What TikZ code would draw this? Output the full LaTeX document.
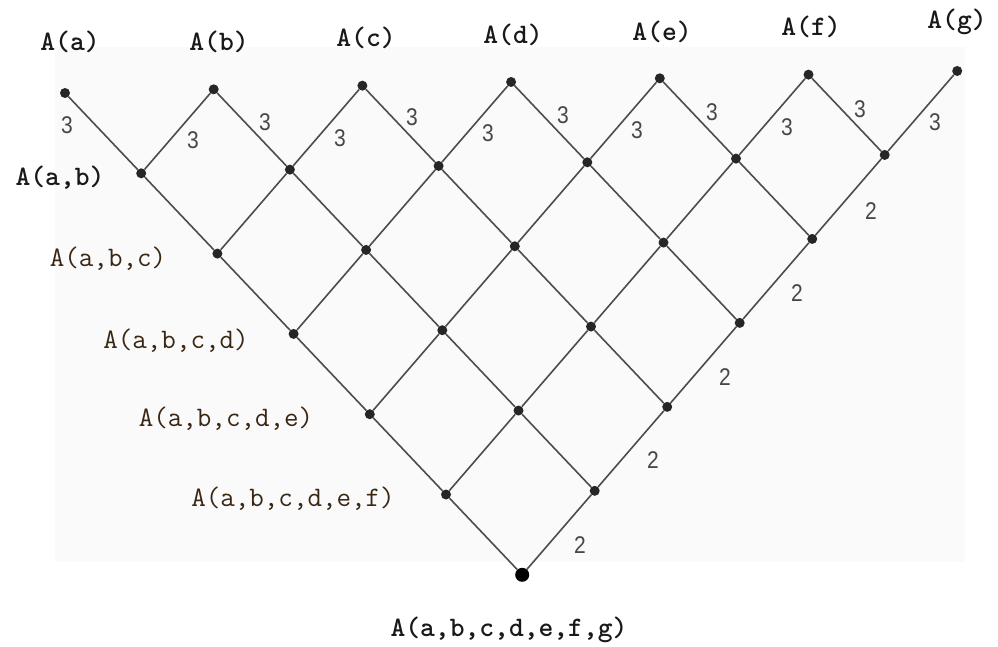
\documentclass[tikz,border=0pt]{standalone}
\usepackage{fontspec}
\setmainfont{Liberation Serif}
\newfontfamily\digf{Liberation Sans}
\begin{document}
\begin{tikzpicture}[x=1pt,y=1pt,
  dot/.style={circle,fill=black!85,inner sep=0pt,minimum size=10pt},
  bigdot/.style={circle,fill=black,inner sep=0pt,minimum size=14pt},
  edge/.style={draw=black!70,line width=1.6pt},
  toplab/.style={font=\ttfamily\bfseries\fontsize{28.2}{32}\selectfont,text=black!90},
  sidelab/.style={font=\ttfamily\fontsize{28.2}{32}\selectfont,text=black!70!brown},
  wlab/.style={font=\digf\fontsize{21}{24}\selectfont,text=black!72,yscale=1.15,transform shape}]
\useasboundingbox (0,0) rectangle (998,646);
\fill[black!2] (55,599) rectangle (965,84);
% lattice nodes
\foreach \i in {0,...,6}{
  \foreach \j in {\i,...,6}{
    \pgfmathsetmacro\px{65+148.7*\i+76.2*(\j-\i)}
    \pgfmathsetmacro\py{646-(93-3.67*\i+80.3*(\j-\i))}
    \ifnum\i=0 \ifnum\j=6
      \node[bigdot] (n\i\j) at (\px,\py) {};
    \else
      \node[dot] (n\i\j) at (\px,\py) {};
    \fi
    \else
      \node[dot] (n\i\j) at (\px,\py) {};
    \fi
  }}
% connectors
\foreach \i in {0,...,5}{
  \pgfmathtruncatemacro\ip{\i+1}
  \foreach \j in {\ip,...,6}{
    \pgfmathtruncatemacro\jm{\j-1}
    \draw[edge] (n\i\jm) -- (n\i\j) -- (n\ip\j);
  }}
% top labels
\node[toplab] (la) at (70,604) {A(a)};
\node[toplab] (lb) at (219,604) {A(b)};
\node[toplab] (lc) at (366,608) {A(c)};
\node[toplab] (ld) at (513,611) {A(d)};
\node[toplab] (le) at (662,614) {A(e)};
\node[toplab] (lf) at (811,619) {A(f)};
\node[toplab] (lg) at (957,624) {A(g)};
% side labels
\node[toplab] (lab) at (60,468) {A(a,b)};
\node[sidelab] (labc) at (108,387) {A(a,b,c)};
\node[sidelab] (labcd) at (176,305) {A(a,b,c,d)};
\node[sidelab] (labcde) at (226,227) {A(a,b,c,d,e)};
\node[sidelab] (labcdef) at (293,147) {A(a,b,c,d,e,f)};
\node[toplab] (lall) at (509,16) {A(a,b,c,d,e,f,g)};
% weights 3
\node[wlab] (w1) at (67,521) {3};
\node[wlab] (w2) at (193,506) {3};
\node[wlab] (w3) at (265,524) {3};
\node[wlab] (w4) at (340,508) {3};
\node[wlab] (w5) at (412,529) {3};
\node[wlab] (w6) at (488,513) {3};
\node[wlab] (w7) at (563,531) {3};
\node[wlab] (w8) at (637,516) {3};
\node[wlab] (w9) at (712,534) {3};
\node[wlab] (w10) at (787,519) {3};
\node[wlab] (w11) at (860,537) {3};
\node[wlab] (w12) at (935,524) {3};
% weights 2
\node[wlab] (v1) at (871,435) {2};
\node[wlab] (v2) at (797,353) {2};
\node[wlab] (v3) at (725,269) {2};
\node[wlab] (v4) at (653,186) {2};
\node[wlab] (v5) at (580,101) {2};
\end{tikzpicture}
\end{document}
